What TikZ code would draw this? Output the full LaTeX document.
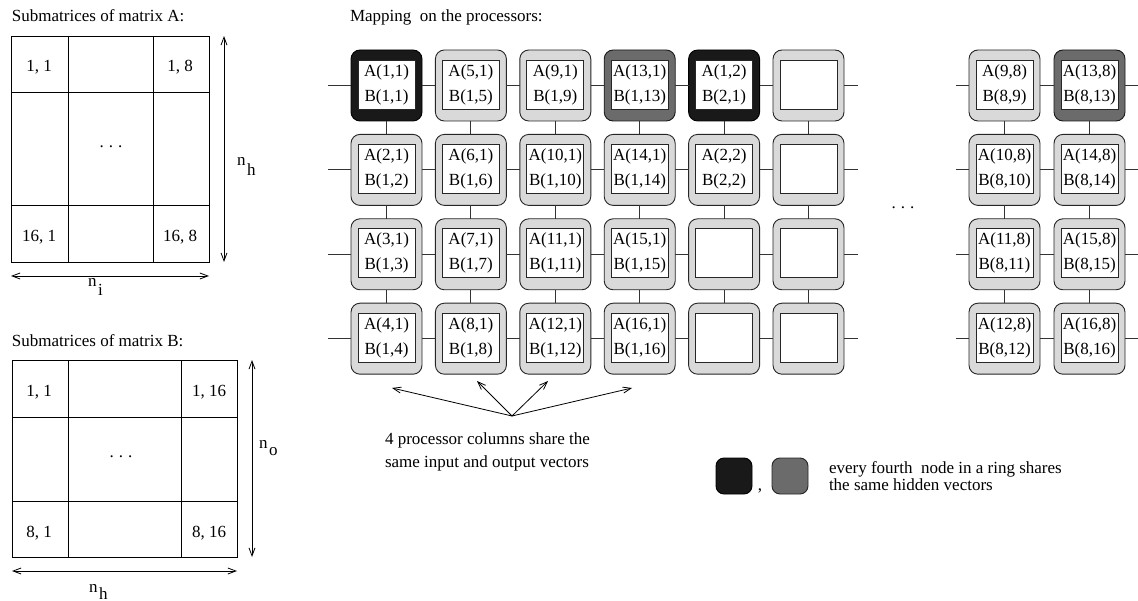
\documentclass[tikz,border=0pt]{standalone}
\usepackage{fontspec}
\setmainfont{Liberation Serif}
\usetikzlibrary{arrows.meta}
\newcommand\fsz{\fontsize{17}{20}\selectfont}
\newcommand\cellfont{\fontsize{17}{25}\selectfont}
\newcommand\mydots{.\kern5pt.\kern5pt.}
\newcommand\procnode[5]{%
  \node[#4] (#1) at (#2,#3) {};
  \node[cell] (#1in) at (#2,#3-1) {#5};
}
\begin{document}
\begin{tikzpicture}[x=1pt,y=-1pt,
  every node/.style={font=\fsz, inner sep=0pt, outer sep=0pt},
  proc/.style={rectangle, rounded corners=9pt, minimum width=71pt, minimum height=71pt,
    draw=black!85, line width=0.9pt, fill=black!15},
  procB/.style={proc, fill=black!90, draw=black},
  procG/.style={proc, fill=black!58, draw=black!90},
  cell/.style={rectangle, draw=black!85, fill=white, line width=0.9pt,
    minimum width=57pt, minimum height=49pt, align=center, font=\cellfont},
  link/.style={draw=black!80, line width=0.9pt},
  grid/.style={draw=black, line width=0.9pt},
  dimarr/.style={draw=black, line width=0.8pt,
    {Straight Barb[length=8pt,width=6pt]}-{Straight Barb[length=8pt,width=6pt]}},
  fanarr/.style={draw=black, line width=0.8pt, -{Straight Barb[length=8pt,width=6pt]}},
  legbox/.style={rectangle, rounded corners=8pt, minimum width=36pt, minimum height=36pt,
    draw=black!85, line width=0.9pt},
  txt/.style={anchor=base west},
  lab/.style={anchor=base}
]
\fill[white] (0,0) rectangle (1138,601);
\useasboundingbox (0,0) rectangle (1138,601);

% ---------- Matrix A ----------
\node[txt] (titleA) at (12,22) {Submatrices of matrix A:};
\draw[grid] (11,36) rectangle (209,262);
\draw[grid] (68,36) -- (68,262);
\draw[grid] (153,36) -- (153,262);
\draw[grid] (11,92) -- (209,92);
\draw[grid] (11,205) -- (209,205);
\node[lab] (a11) at (39,72) {1, 1};
\node[lab] (a18) at (180,72) {1, 8};
\node[lab] (a161) at (39,242) {16, 1};
\node[lab] (a168) at (180,242) {16, 8};
\node (adots) at (111,147) {\mydots};
\coordinate (av1) at (224,36);
\coordinate (av2) at (224,262);
\draw[dimarr] (av1) -- (av2);
\coordinate (ah1) at (11,276);
\coordinate (ah2) at (209,276);
\draw[dimarr] (ah1) -- (ah2);
\node[txt] (anh) at (237,166) {n\kern1.5pt\raisebox{-10pt}{h}};
\node[txt] (ani) at (88,287) {n\kern1.5pt\raisebox{-9pt}{i}};

% ---------- Matrix B ----------
\node[txt] (titleB) at (12,347) {Submatrices of matrix B:};
\draw[grid] (12,360) rectangle (237,557);
\draw[grid] (68,360) -- (68,557);
\draw[grid] (181,360) -- (181,557);
\draw[grid] (12,417) -- (237,417);
\draw[grid] (12,501) -- (237,501);
\node[lab] (b11) at (39,397) {1, 1};
\node[lab] (b116) at (209,397) {1, 16};
\node[lab] (b81) at (39,537) {8, 1};
\node[lab] (b816) at (209,537) {8, 16};
\node (bdots) at (121,457) {\mydots};
\coordinate (bv1) at (252,360);
\coordinate (bv2) at (252,557);
\draw[dimarr] (bv1) -- (bv2);
\coordinate (bh1) at (12,571);
\coordinate (bh2) at (237,571);
\draw[dimarr] (bh1) -- (bh2);
\node[txt] (bno) at (259,448) {n\kern1.5pt\raisebox{-8pt}{o}};
\node[txt] (bnh) at (89,592) {n\kern1.5pt\raisebox{-7pt}{h}};

% ---------- Processors ----------
\node[txt] (titleM) at (350,22) {Mapping\ \ on the processors:};

\foreach \r in {1,...,4}{
  \pgfmathsetmacro\yy{85.5+84.4*(\r-1)}
  \pgfmathtruncatemacro\ra{\r+4}
  \pgfmathtruncatemacro\rb{\r+8}
  \pgfmathtruncatemacro\rc{\r+12}
  \ifnum\r=1
    \tikzset{kst/.style={procB}, gst/.style={procG}}
  \else
    \tikzset{kst/.style={proc}, gst/.style={proc}}
  \fi
  \procnode{p\r-1}{386.5}{\yy}{kst}{A(\r,1)\\B(1,\r)}
  \procnode{p\r-2}{470.9}{\yy}{proc}{A(\ra,1)\\B(1,\ra)}
  \procnode{p\r-3}{555.3}{\yy}{proc}{A(\rb,1)\\B(1,\rb)}
  \procnode{p\r-4}{639.7}{\yy}{gst}{A(\rc,1)\\B(1,\rc)}
  \ifnum\r<3
    \procnode{p\r-5}{724.1}{\yy}{kst}{A(\r,2)\\B(2,\r)}
  \else
    \procnode{p\r-5}{724.1}{\yy}{proc}{}
  \fi
  \procnode{p\r-6}{808.5}{\yy}{proc}{}
  \procnode{p\r-7}{1004.5}{\yy}{proc}{A(\rb,8)\\B(8,\rb)}
  \procnode{p\r-8}{1089.5}{\yy}{gst}{A(\rc,8)\\B(8,\rc)}
}

% horizontal links
\foreach \r in {1,...,4}{
  \pgfmathsetmacro\yy{85.5+84.4*(\r-1)}
  \coordinate (lsa\r) at (328,\yy);
  \coordinate (rsa\r) at (858,\yy);
  \coordinate (lsb\r) at (956,\yy);
  \coordinate (rsb\r) at (1138,\yy);
  \draw[link] (lsa\r) -- (p\r-1);
  \foreach \c [evaluate=\c as \cn using int(\c+1)] in {1,...,5}{
    \draw[link] (p\r-\c) -- (p\r-\cn);
  }
  \draw[link] (p\r-6) -- (rsa\r);
  \draw[link] (lsb\r) -- (p\r-7);
  \draw[link] (p\r-7) -- (p\r-8);
  \draw[link] (p\r-8) -- (rsb\r);
}
% vertical links
\foreach \r [evaluate=\r as \rn using int(\r+1)] in {1,2,3}{
  \foreach \c in {1,...,8}{
    \draw[link] (p\r-\c) -- (p\rn-\c);
  }
}

\node (gapdots) at (903,208) {\mydots};

% ---------- fan arrows and caption ----------
\coordinate (fan) at (512,416);
\coordinate (t1) at (392,388);
\coordinate (t2) at (477,381);
\coordinate (t3) at (548,381);
\coordinate (t4) at (632,388);
\foreach \t in {t1,t2,t3,t4}{ \draw[fanarr] (fan) -- (\t); }
\node[txt] (cap1) at (385,445) {4 processor columns share the};
\node[txt] (cap2) at (385,467) {same input and output vectors};

% ---------- legend ----------
\node[legbox, fill=black!90, draw=black] (legK) at (734,476) {};
\node[legbox, fill=black!58] (legG) at (790,476) {};
\node[lab] (comma) at (760,490) {,};
\node[txt] (leg1) at (829,473) {every fourth\ \ node in a ring shares};
\node[txt] (leg2) at (829,490) {the same hidden vectors};
\end{tikzpicture}
\end{document}
